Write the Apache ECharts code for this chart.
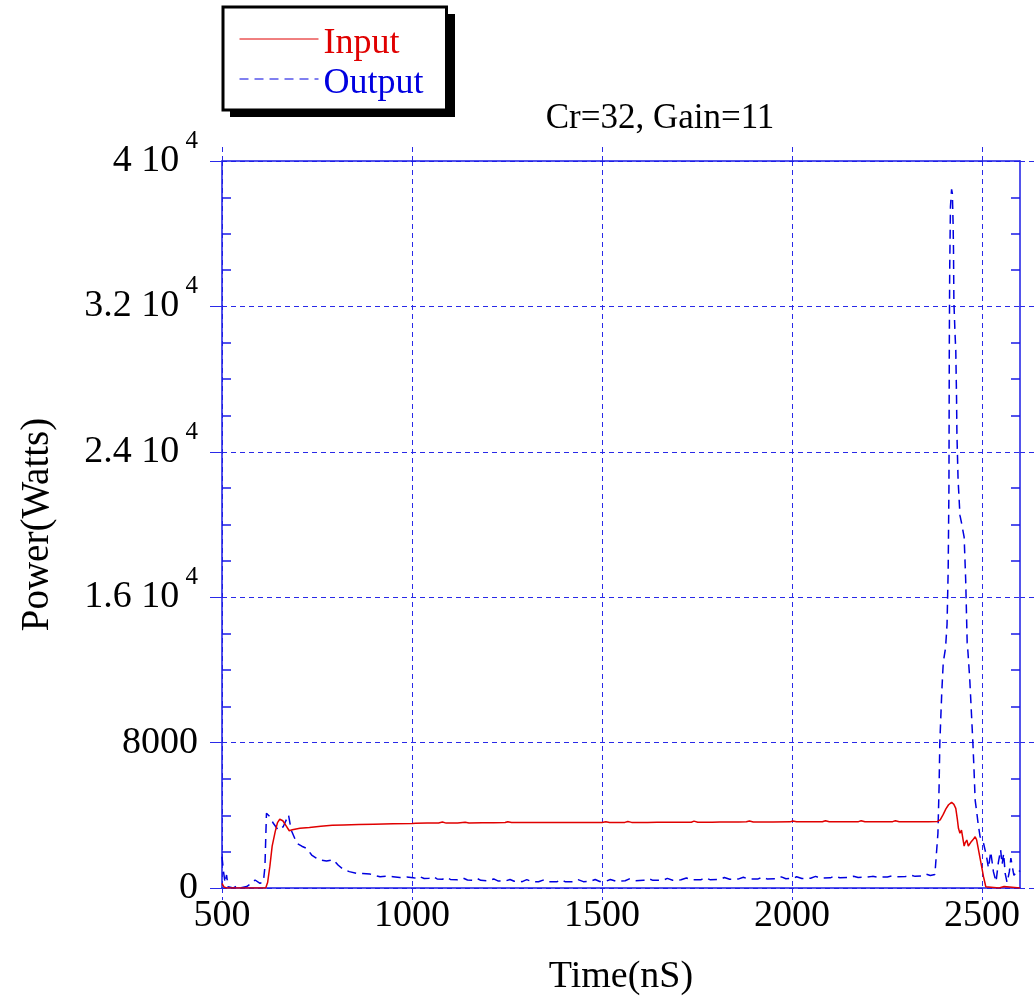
<!DOCTYPE html>
<html>
<head>
<meta charset="utf-8">
<script src="https://cdn.jsdelivr.net/npm/echarts@6/dist/echarts.min.js"></script>
<style>
    html, body { margin: 0; padding: 0; background: #fff; }
    #main { width: 1034px; height: 1001px; }
</style>
</head>
<body>
<div id="main"></div>
<script>
// data: [time (nS), power (W)]
var inputData = [
    [500, 250], [505, 60], [512, 0], [615, 0], [620, 300], [626, 1200], [632, 2300], [640, 3100],
    [646, 3600], [652, 3780], [660, 3700], [668, 3450], [677, 3150], [685, 3200], [695, 3250],
    [705, 3290], [730, 3330], [760, 3400], [790, 3450], [820, 3470], [860, 3490], [900, 3510],
    [950, 3530], [1000, 3550], [1003, 3610], [1010, 3560], [1040, 3570], [1070, 3580], [1080, 3630],
    [1090, 3570], [1120, 3580], [1140, 3620], [1150, 3580], [1185, 3590], [1215, 3590], [1245, 3600],
    [1252, 3640], [1262, 3600], [1300, 3600], [1350, 3600], [1400, 3600], [1450, 3600], [1500, 3600],
    [1510, 3650], [1520, 3600], [1560, 3610], [1568, 3660], [1578, 3610], [1620, 3610], [1645, 3620],
    [1650, 3670], [1660, 3620], [1700, 3620], [1735, 3620], [1742, 3680], [1752, 3620], [1790, 3620],
    [1810, 3630], [1815, 3670], [1825, 3630], [1860, 3630], [1880, 3640], [1888, 3690], [1898, 3630],
    [1950, 3630], [1995, 3640], [2002, 3690], [2012, 3640], [2050, 3640], [2080, 3650], [2088, 3700],
    [2098, 3640], [2140, 3640], [2175, 3650], [2182, 3700], [2192, 3640], [2230, 3650], [2265, 3650],
    [2272, 3700], [2282, 3650], [2320, 3650], [2360, 3650], [2383, 3660], [2390, 3750], [2398, 4050],
    [2405, 4350], [2412, 4580], [2420, 4715], [2426, 4600], [2431, 4385], [2435, 3800], [2438, 3285],
    [2442, 3010], [2446, 3190], [2453, 2310], [2456, 2500], [2460, 2640], [2464, 2310], [2470, 2500],
    [2476, 2650], [2482, 2820], [2486, 2640], [2495, 1630], [2504, 620], [2510, 70], [2515, 0],
    [2545, 0], [2549, 80], [2558, 80], [2562, 0], [2600, 0]
];

var outputData = [
    [500, 1720], [504, 900], [508, 300], [512, 715], [516, 70], [530, 0], [540, 120], [548, 0],
    [565, 80], [578, 260], [587, 440], [600, 250], [609, 350], [613, 1170], [617, 4110], [626, 3920],
    [635, 3560], [648, 3190], [661, 3370], [675, 4020], [682, 3190], [697, 2460], [710, 2300],
    [723, 2180], [736, 1815], [748, 1650], [758, 1540], [775, 1480], [793, 1560], [806, 1250],
    [819, 1030], [835, 900], [854, 810], [870, 800], [889, 770], [902, 690], [916, 620], [935, 650],
    [950, 620], [968, 580], [986, 600], [1003, 570], [1015, 520], [1021, 620], [1032, 520],
    [1045, 540], [1056, 620], [1066, 500], [1080, 480], [1092, 580], [1101, 470], [1120, 450],
    [1135, 540], [1146, 440], [1160, 420], [1172, 520], [1181, 420], [1200, 400], [1215, 500],
    [1226, 390], [1245, 380], [1258, 470], [1269, 370], [1290, 350], [1302, 460], [1316, 350],
    [1333, 340], [1347, 450], [1359, 340], [1381, 340], [1392, 450], [1404, 340], [1426, 350],
    [1437, 460], [1451, 350], [1468, 360], [1482, 470], [1494, 360], [1511, 380], [1522, 470],
    [1536, 380], [1561, 400], [1572, 500], [1586, 400], [1609, 420], [1622, 520], [1634, 420],
    [1661, 430], [1672, 530], [1686, 430], [1708, 450], [1722, 550], [1736, 450], [1761, 460],
    [1772, 560], [1784, 460], [1812, 480], [1822, 580], [1836, 480], [1858, 490], [1872, 590],
    [1886, 490], [1911, 500], [1922, 600], [1934, 500], [1962, 510], [1972, 610], [1984, 510],
    [2004, 530], [2012, 620], [2026, 520], [2049, 540], [2062, 640], [2074, 540], [2101, 560],
    [2112, 660], [2126, 560], [2152, 580], [2162, 650], [2174, 580], [2199, 600], [2212, 640],
    [2226, 600], [2251, 610], [2262, 660], [2276, 620], [2299, 630], [2312, 710], [2324, 640],
    [2341, 660], [2352, 770], [2364, 690], [2376, 740], [2381, 760], [2384, 3000], [2387, 5500],
    [2389, 7980], [2394, 10700], [2398, 12400], [2404, 13200], [2408, 14500], [2411, 17500],
    [2413, 22000], [2414, 30000], [2415, 34000], [2417, 37500], [2420, 38440], [2422, 38200],
    [2424, 36500], [2425, 35100], [2426, 32300], [2429, 30500], [2431, 29600], [2433, 27000],
    [2434, 25000], [2437, 22500], [2442, 20500], [2446, 20100], [2453, 19300], [2457, 17000],
    [2461, 13500], [2463, 13000], [2468, 11400], [2476, 8000], [2479, 6500], [2482, 4840],
    [2486, 4200], [2490, 3500], [2495, 2820], [2500, 2600], [2504, 2460], [2508, 2100],
    [2512, 1720], [2517, 1100], [2523, 2000], [2530, 900], [2537, 350], [2543, 1400], [2549, 2100],
    [2553, 1300], [2557, 1900], [2561, 800], [2566, 300], [2572, 900], [2576, 1650], [2580, 1150],
    [2584, 700], [2590, 850], [2596, 1000], [2600, 900]
];

var xTicks = [500, 1000, 1500, 2000, 2500];

var serif = "'Liberation Serif', 'Times New Roman', serif";
var blue = '#1a1ae6';
var gridBlue = '#2a2ae8';

function yLabel(v) {
    if (v >= 10000) {
        return '{a|' + (v / 10000) + ' 10}{s| 4}';
    }
    return '{a|' + v + '}';
}

var chart = echarts.init(document.getElementById('main'));

var yBase = { type: 'value', min: 0, max: 40000, interval: 8000 };

chart.setOption({
    animation: false,
    backgroundColor: '#fff',
    title: {
        text: 'Cr=32, Gain=11',
        left: 660,
        top: 101,
        padding: 0,
        textAlign: 'center',
        textStyle: { fontFamily: serif, fontSize: 35, fontWeight: 'normal', color: '#000' }
    },
    graphic: [{
        type: 'rect',
        z: 1,
        shape: { x: 230, y: 14, width: 225, height: 103 },
        style: { fill: '#000' }
    }],
    legend: {
        z: 5,
        left: 223,
        top: 7,
        orient: 'vertical',
        padding: [9, 23, 8, 16],
        itemWidth: 79,
        itemHeight: 14,
        itemGap: -6,
        backgroundColor: '#fff',
        borderColor: '#000',
        borderWidth: 3,
        borderRadius: 0,
        itemStyle: { opacity: 0 },
        lineStyle: { width: 1 },
        formatter: function (name) { return '{t|' + name + '}'; },
        textStyle: {
            fontFamily: serif,
            fontSize: 36,
            rich: { t: { fontFamily: serif, fontSize: 36, lineHeight: 24, padding: [10, 0, 0, 0] } }
        },
        data: [
            { name: 'Input', textStyle: { color: '#e00000' } },
            { name: 'Output', textStyle: { color: '#0000e0' } }
        ]
    },
    grid: { left: 222, right: 14, top: 161, bottom: 113 },
    xAxis: [{
        type: 'value',
        min: 500,
        max: 2600,
        interval: 500,
        name: 'Time(nS)',
        nameLocation: 'middle',
        nameGap: 70,
        nameTextStyle: { fontFamily: serif, fontSize: 38, color: '#000' },
        axisLine: { onZero: false, lineStyle: { color: blue, width: 1.5 } },
        axisTick: { length: 12, customValues: xTicks, lineStyle: { color: gridBlue, type: [5, 4] } },
        axisLabel: {
            customValues: xTicks,
            margin: 9,
            fontFamily: serif,
            fontSize: 38,
            color: '#000',
            formatter: function (v) { return String(v); }
        },
        splitLine: { show: true, lineStyle: { color: gridBlue, type: [5, 4], width: 1 } }
    }, {
        type: 'value',
        position: 'top',
        min: 500,
        max: 2600,
        interval: 500,
        axisLine: { onZero: false, lineStyle: { color: blue, width: 1.5 } },
        axisTick: { length: 14, customValues: xTicks, lineStyle: { color: gridBlue, type: [5, 4] } },
        axisLabel: { show: false },
        splitLine: { show: false }
    }],
    yAxis: [Object.assign({}, yBase, {
        position: 'left',
        name: 'Power(Watts)',
        nameLocation: 'middle',
        nameGap: 165,
        nameTextStyle: { fontFamily: serif, fontSize: 39, color: '#000' },
        axisLine: { show: true, onZero: false, lineStyle: { color: blue, width: 1.5 } },
        axisTick: { length: 12, lineStyle: { color: gridBlue } },
        axisLabel: {
            margin: 24,
            formatter: yLabel,
            rich: {
                a: { fontFamily: serif, fontSize: 38, lineHeight: 64, color: '#000' },
                s: { fontFamily: serif, fontSize: 25, lineHeight: 25, verticalAlign: 'top', color: '#000' }
            }
        },
        splitLine: { show: true, lineStyle: { color: gridBlue, type: [5, 4], width: 1 } }
    }), Object.assign({}, yBase, {
        position: 'left',
        axisLine: { show: false },
        axisTick: { show: false, inside: true },
        minorTick: { show: true, splitNumber: 4, length: 9, lineStyle: { color: blue, width: 1.5 } },
        axisLabel: { show: false },
        splitLine: { show: false }
    }), Object.assign({}, yBase, {
        position: 'right',
        axisLine: { show: true, onZero: false, lineStyle: { color: blue, width: 1.5 } },
        axisTick: { length: 14, lineStyle: { color: gridBlue, type: [5, 4] } },
        axisLabel: { show: false },
        splitLine: { show: false }
    }), Object.assign({}, yBase, {
        position: 'right',
        axisLine: { show: false },
        axisTick: { show: false, inside: true },
        minorTick: { show: true, splitNumber: 4, length: 9, lineStyle: { color: blue, width: 1.5 } },
        axisLabel: { show: false },
        splitLine: { show: false }
    })],
    series: [{
        name: 'Input',
        type: 'line',
        xAxisIndex: 0,
        yAxisIndex: 0,
        symbol: 'none',
        color: '#e00000',
        lineStyle: { color: '#e00000', width: 1.5 },
        data: inputData,
        z: 3
    }, {
        name: 'Output',
        type: 'line',
        xAxisIndex: 0,
        yAxisIndex: 0,
        symbol: 'none',
        color: '#0000e0',
        lineStyle: { color: '#0000e0', width: 1.5, type: [9, 6] },
        data: outputData,
        z: 2
    }]
});

window.addEventListener('resize', function () {
    chart.resize();
});
</script>
</body>
</html>
